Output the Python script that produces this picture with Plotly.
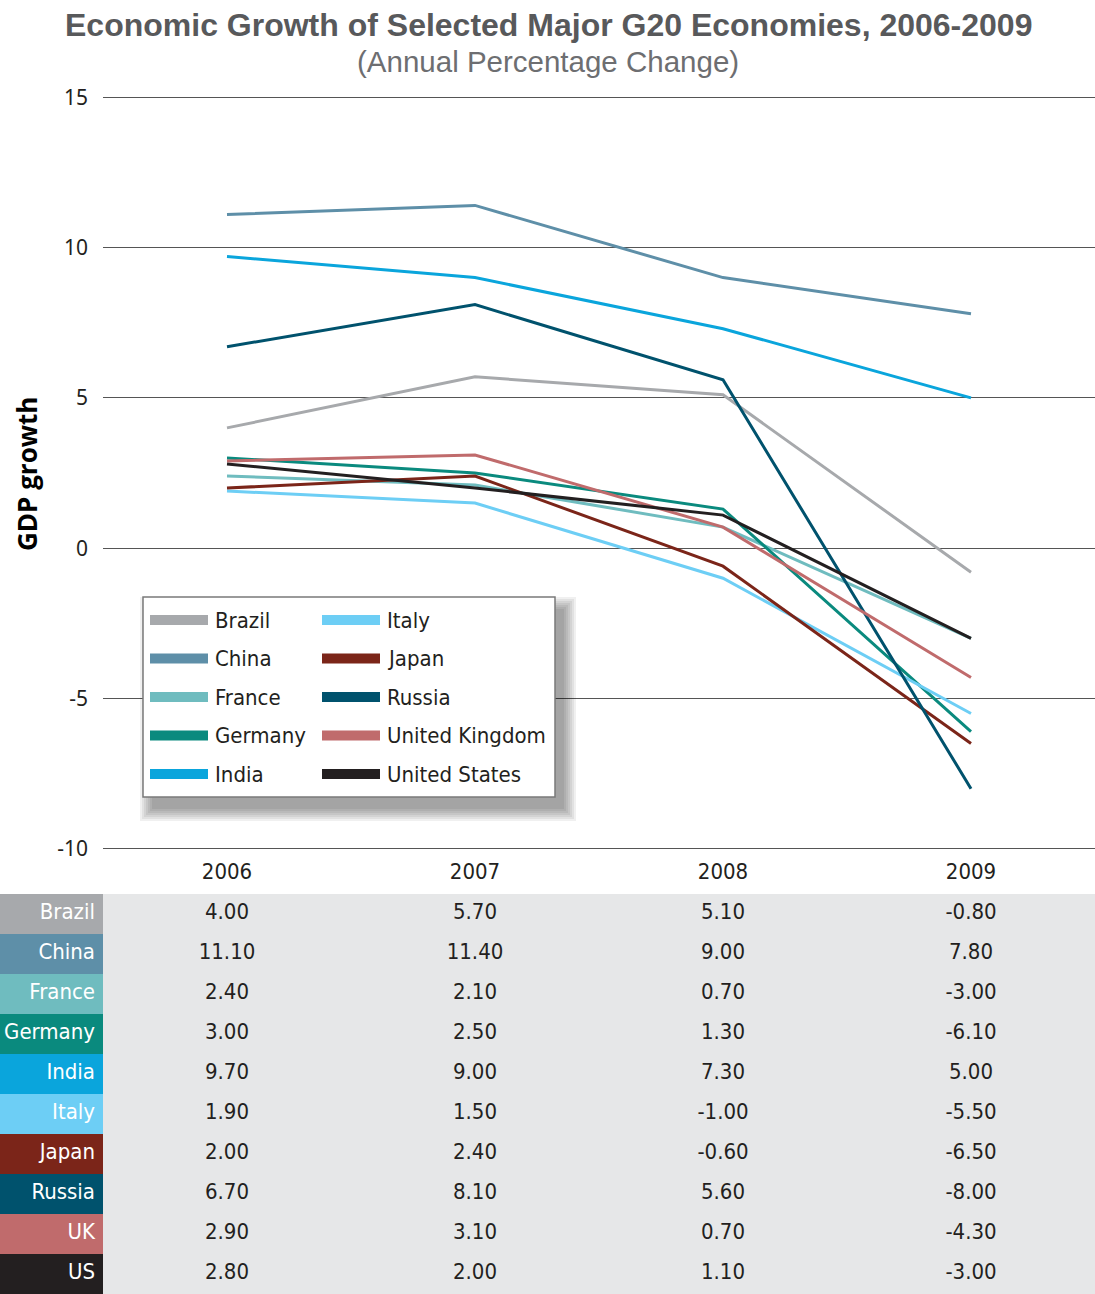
import plotly.graph_objects as go

# ---- data -------------------------------------------------------------
years = ["2006", "2007", "2008", "2009"]
countries = ["Brazil", "China", "France", "Germany", "India",
             "Italy", "Japan", "Russia", "United Kingdom", "United States"]
row_labels = ["Brazil", "China", "France", "Germany", "India",
              "Italy", "Japan", "Russia", "UK", "US"]

brazil = [4.00, 5.70, 5.10, -0.80]
china = [11.10, 11.40, 9.00, 7.80]
france = [2.40, 2.10, 0.70, -3.00]
germany = [3.00, 2.50, 1.30, -6.10]
india = [9.70, 9.00, 7.30, 5.00]
italy = [1.90, 1.50, -1.00, -5.50]
japan = [2.00, 2.40, -0.60, -6.50]
russia = [6.70, 8.10, 5.60, -8.00]
uk = [2.90, 3.10, 0.70, -4.30]
us = [2.80, 2.00, 1.10, -3.00]

series = [brazil, china, france, germany, india, italy, japan, russia, uk, us]

colors = ["#a7a9ac", "#5e8fa8", "#6fbcbf", "#0a8a7e", "#0aa5dc",
          "#6dcef5", "#7b2519", "#00526d", "#c06b6c", "#231f20"]

y_ticks = [-10, -5, 0, 5, 10, 15]

# ---- geometry helpers (page is 1095 x 1294, plot area spans it all but the top margin)
W, H = 1095, 1294
TOP = 96
AREA_H = H - TOP


def px(x):
    return x / W


def py(y):
    return (H - y) / AREA_H


COND = "DejaVu Sans Condensed, DejaVu Sans, sans-serif"
TABLE_BG = "#e6e7e8"
INK = "#231f20"
ROW_H = 40

fig = go.Figure()

# ---- growth lines -----------------------------------------------------
for name, vals, col in zip(countries, series, colors):
    fig.add_trace(go.Scatter(
        x=years, y=vals, name=name, mode="lines",
        line=dict(color=col, width=3),
        showlegend=False,
        xaxis="x", yaxis="y",
    ))

# ---- data table under the chart ---------------------------------------
# first country row sits in the table header, the rest in the body
year_cols = [[f"{s[j]:.2f}" for s in series] for j in range(len(years))]
n_body = len(series) - 1
fig.add_trace(go.Table(
    domain=dict(x=[0, 1], y=[0, py(894)]),
    columnwidth=[103] + [248] * len(years),
    header=dict(
        values=[row_labels[0]] + [c[0] for c in year_cols],
        fill=dict(color=[colors[0]] + [TABLE_BG] * len(years)),
        font=dict(family=COND, size=22, color=["white"] + [INK] * len(years)),
        align=["right"] + ["center"] * len(years),
        height=ROW_H,
        line=dict(width=0),
    ),
    cells=dict(
        values=[row_labels[1:]] + [c[1:] for c in year_cols],
        fill=dict(color=[colors[1:]] + [[TABLE_BG] * n_body] * len(years)),
        font=dict(family=COND, size=22,
                  color=[["white"] * n_body] + [[INK] * n_body] * len(years)),
        align=["right"] + ["center"] * len(years),
        height=ROW_H,
        line=dict(width=0),
    ),
))

# ---- legend (two columns, drawn as a boxed key with a soft drop shadow)
shapes = []
bx0, by0, bx1, by1 = 143, 597, 555, 797
for s in range(0, 14, 2):
    shapes.append(dict(
        type="rect", xref="paper", yref="paper", layer="above",
        x0=px(bx0 + 9 - s), x1=px(bx1 + 9 + s),
        y0=py(by1 + 12 + s), y1=py(by0 + 12 - s),
        fillcolor="rgba(0,0,0,0.06)", line=dict(width=0),
    ))
shapes.append(dict(
    type="rect", xref="paper", yref="paper", layer="above",
    x0=px(bx0), x1=px(bx1), y0=py(by1), y1=py(by0),
    fillcolor="white", line=dict(color="#7a7a7a", width=1.5),
))

annotations = []
row_y = [620, 658.5, 697, 735.5, 774]
col_sw = [(150, 208), (322, 380)]
col_tx = [213, 385]
for i, (name, col) in enumerate(zip(countries, colors)):
    c, r = divmod(i, 5)
    yy = py(row_y[r])
    shapes.append(dict(
        type="line", xref="paper", yref="paper", layer="above",
        x0=px(col_sw[c][0]), x1=px(col_sw[c][1]), y0=yy, y1=yy,
        line=dict(color=col, width=10),
    ))
    annotations.append(dict(
        xref="paper", yref="paper", x=px(col_tx[c]), y=yy,
        xanchor="left", yanchor="middle", showarrow=False,
        text=name, font=dict(family=COND, size=22, color=INK),
    ))

# ---- titles -----------------------------------------------------------
annotations.append(dict(
    xref="paper", yref="paper", x=px(548), y=py(25),
    xanchor="center", yanchor="middle", showarrow=False,
    text="<b>Economic Growth of Selected Major G20 Economies, 2006-2009</b>",
    font=dict(family="Liberation Sans, Arial, sans-serif", size=32, color="#58595b"),
))
annotations.append(dict(
    xref="paper", yref="paper", x=px(548), y=py(62),
    xanchor="center", yanchor="middle", showarrow=False,
    text="(Annual Percentage Change)",
    font=dict(family="Liberation Sans, Arial, sans-serif", size=29.5, color="#6d6e71"),
))
annotations.append(dict(
    xref="paper", yref="paper", x=px(27), y=py(474),
    xanchor="center", yanchor="middle", showarrow=False, textangle=-90,
    text="<b>GDP growth</b>",
    font=dict(family="Open Sans, Noto Sans, sans-serif", size=26, color="black"),
))

fig.update_layout(
    width=W, height=H,
    margin=dict(l=0, r=0, t=TOP, b=0, pad=0, autoexpand=False),
    paper_bgcolor="white", plot_bgcolor="white",
    showlegend=False,
    xaxis=dict(
        domain=[px(103), 1], type="category", range=[-0.5, 3.5],
        showgrid=False, showline=False, zeroline=False, ticks="",
        tickfont=dict(family=COND, size=22, color=INK),
        ticklabelstandoff=6, automargin=False,
    ),
    yaxis=dict(
        domain=[py(850), 1], range=[-10.04, 15.04],
        tickvals=y_ticks, ticktext=[str(v) for v in y_ticks],
        showgrid=True, gridcolor="#555555", gridwidth=1,
        zeroline=False, showline=False, ticks="",
        tickfont=dict(family="Noto Sans, Open Sans, sans-serif", size=21, color=INK),
        ticklabelstandoff=14, automargin=False,
    ),
    shapes=shapes,
    annotations=annotations,
)

fig.write_html("out.html")
